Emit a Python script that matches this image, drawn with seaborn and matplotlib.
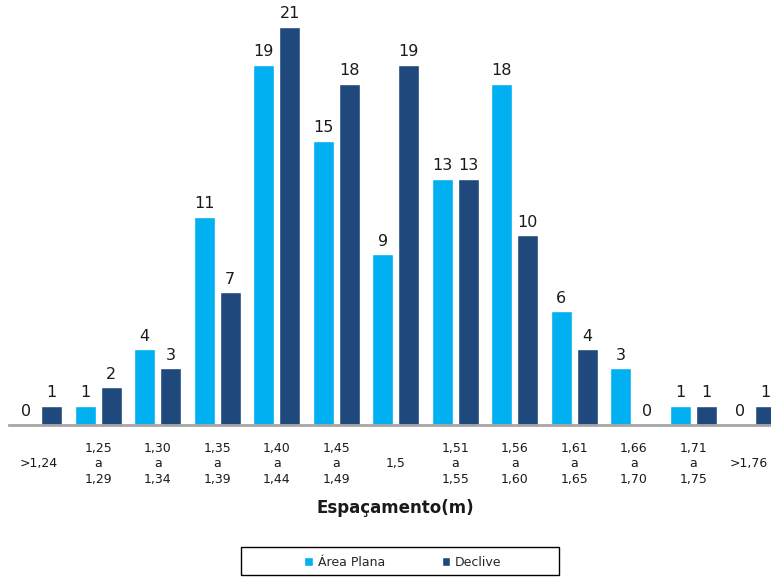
import matplotlib
matplotlib.use("Agg")
import matplotlib.pyplot as plt
import matplotlib.transforms as mtransforms
from matplotlib.patches import Rectangle
import seaborn as sns
import pandas as pd

categories = [">1,24", "1,25 a 1,29", "1,30 a 1,34", "1,35 a 1,39", "1,40 a 1,44",
              "1,45 a 1,49", "1,5", "1,51 a 1,55", "1,56 a 1,60", "1,61 a 1,65",
              "1,66 a 1,70", "1,71 a 1,75", ">1,76"]
tick_labels = [" \n>1,24\n ", "1,25\na\n1,29", "1,30\na\n1,34", "1,35\na\n1,39",
               "1,40\na\n1,44", "1,45\na\n1,49", " \n1,5\n ", "1,51\na\n1,55",
               "1,56\na\n1,60", "1,61\na\n1,65", "1,66\na\n1,70", "1,71\na\n1,75",
               " \n>1,76\n "]
area_plana = [0, 1, 4, 11, 19, 15, 9, 13, 18, 6, 3, 1, 0]
declive = [1, 2, 3, 7, 21, 18, 19, 13, 10, 4, 0, 1, 1]
series = ["Área Plana", "Declive"]
colors = ["#00B0F0", "#1F497D"]

df = pd.DataFrame({
    "cat": categories * 2,
    "val": area_plana + declive,
    "serie": [series[0]] * len(categories) + [series[1]] * len(categories),
})

sns.set_style("white")
plt.rcParams["font.family"] = ["DejaVu Sans"]

W, H = 771, 578
fig = plt.figure(figsize=(W / 100, H / 100), dpi=100)
ax = fig.add_axes([9 / W, (H - 425) / H, 773.5 / W, 398 / H])

sns.barplot(data=df, x="cat", y="val", hue="serie", order=categories,
            hue_order=series, palette=colors, width=0.874, gap=0.18,
            errorbar=None, ax=ax, saturation=1)

for c in ax.containers:
    ax.bar_label(c, fmt="%d", padding=4, fontsize=11.5, color="#1a1a1a")

ax.set_ylim(0, 21)
ax.set_xlim(-0.5, 12.5)
ax.set_xticks(range(len(categories)))
ax.set_xticklabels(tick_labels, fontsize=9, color="#1a1a1a", linespacing=1.25)
ax.tick_params(axis="x", length=0, pad=12)
last = ax.get_xticklabels()[-1]
last.set_transform(last.get_transform() +
                   mtransforms.ScaledTranslation(-4 / 100, 0, fig.dpi_scale_trans))
ax.set_yticks([])
ax.set_xlabel("")
ax.set_ylabel("")
for s in ["left", "right", "top"]:
    ax.spines[s].set_visible(False)
ax.spines["bottom"].set_color("#A6A6A6")
ax.spines["bottom"].set_linewidth(2)

fig.text(395 / W, 1 - 508 / H, "Espaçamento(m)", ha="center", va="center",
         fontsize=12, fontweight="bold", color="#1a1a1a")

handles, labels = ax.get_legend_handles_labels()
ax.get_legend().remove()
fig.legend(handles, labels, loc="center", bbox_to_anchor=(403 / W, 1 - 562 / H),
           ncol=2, frameon=False, handlelength=0.7, handleheight=0.7,
           handletextpad=0.4, columnspacing=4.5, fontsize=9)
fig.patches.append(Rectangle((241 / W, 1 - 575 / H), 318 / W, 28 / H,
                             transform=fig.transFigure, fill=False,
                             edgecolor="black", linewidth=1))

fig.savefig("out.png", dpi=100)
